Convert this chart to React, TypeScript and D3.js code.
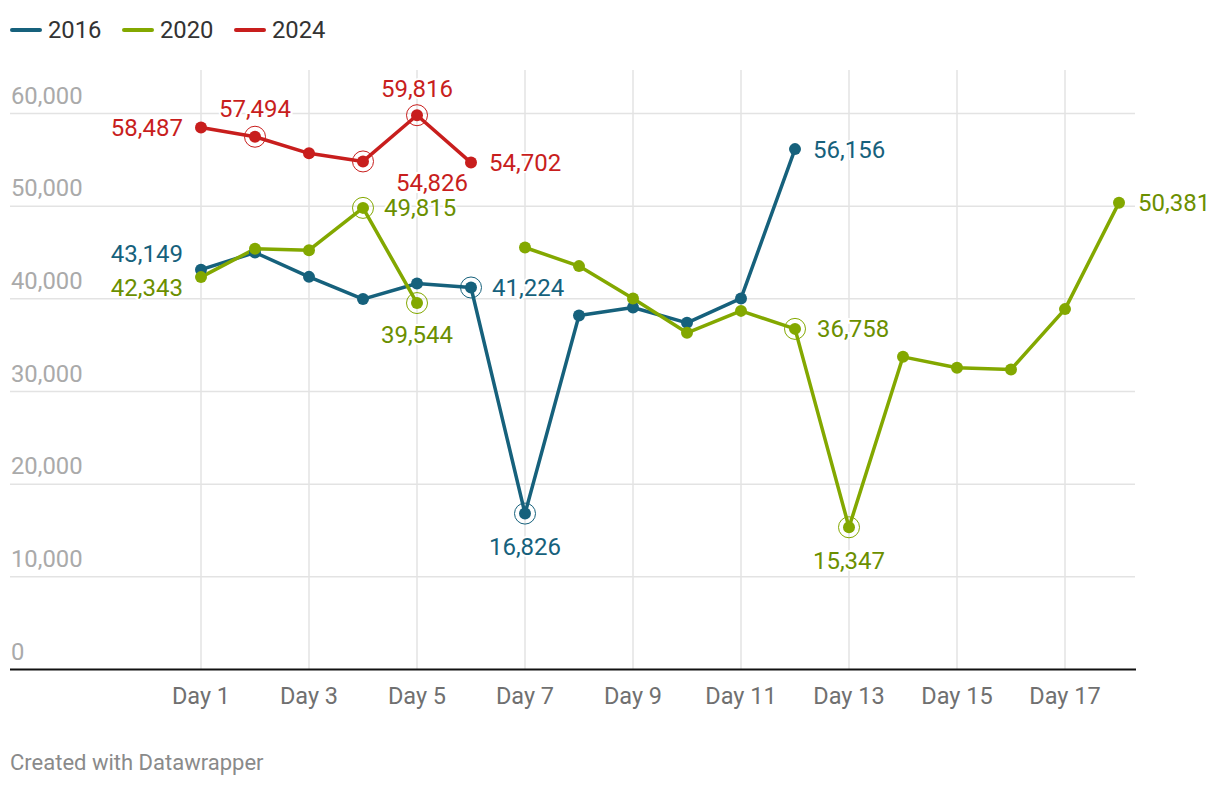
import React from "react";
import * as d3 from "d3";

const days: number[] = d3.range(1, 19);
const xTickDays: number[] = [1, 3, 5, 7, 9, 11, 13, 15, 17];
const yTicks: number[] = [0, 10000, 20000, 30000, 40000, 50000, 60000];

const values2016: (number | null)[] = [43149, 45000, 42370, 39970, 41660, 41224, 16826, 38210, 39070, 37410, 40040, 56156];
const values2020: (number | null)[] = [42343, 45400, 45250, 49815, 39544, null, 45540, 43530, 40040, 36330, 38700, 36758, 15347, 33740, 32560, 32380, 38890, 50381];
const values2024: (number | null)[] = [58487, 57494, 55700, 54826, 59816, 54702];

const seriesNames: string[] = ["2016", "2020", "2024"];
const seriesValues = [values2016, values2020, values2024];
const lineColors: string[] = ["#16617c", "#83a800", "#c81e1d"];
const textColors: string[] = ["#16617c", "#6b8f00", "#c81e1d"];

// highlighted (ringed) points: [seriesIndex, day]
const rings: [number, number][] = [
  [2, 2], [2, 4], [2, 5],
  [1, 4], [1, 5], [1, 12], [1, 13],
  [0, 6], [0, 7],
];

// labels: [seriesIndex, day, placement, dx, dy]
const labels: [number, number, string, number, number][] = [
  [2, 1, "left", -18, 0],
  [2, 2, "middle", 0, -28],
  [2, 5, "middle", 0, -27],
  [2, 4, "middle", 69, 21],
  [2, 6, "right", 18, 0],
  [0, 1, "left", -18, -16],
  [1, 1, "left", -18, 10],
  [1, 4, "right", 21, 0],
  [1, 5, "middle", 0, 32],
  [0, 6, "right", 21, 0],
  [0, 7, "middle", 0, 33],
  [0, 12, "right", 18, 0],
  [1, 12, "right", 22, 0],
  [1, 13, "middle", 0, 33],
  [1, 18, "right", 19, 0],
];

const FONT = "Roboto, 'Noto Sans', sans-serif";

export default function App() {
  const W = 1220;
  const H = 786;
  const x = d3.scaleLinear().domain([1, 18]).range([201, 1119]);
  const y = d3.scaleLinear().domain([0, 60000]).range([669.5, 113.5]);
  const fmt = d3.format(",");
  const gridLeft = 10;
  const gridRight = 1135;
  const plotTop = 70;

  const line = d3
    .line<number | null>()
    .defined((d) => d != null)
    .x((_, i) => x(days[i]))
    .y((d) => y(d as number));

  return (
    <div style={{ position: "absolute", left: 0, top: 0 }}>
      <svg width={W} height={H} style={{ display: "block", fontFamily: FONT }}>
        <rect width={W} height={H} fill="#fff" />
        {/* legend */}
        {seriesNames.map((name, i) => {
          const lx = [10, 122, 234][i];
          return (
            <g key={name}>
              <line x1={lx + 2} x2={lx + 30} y1={30} y2={30} stroke={lineColors[i]} strokeWidth={4} strokeLinecap="round" />
              <text x={lx + 38} y={30} dy="0.35em" fontSize={23.8} fill="#333">{name}</text>
            </g>
          );
        })}
        {/* horizontal grid */}
        {yTicks.map((t) => (
          <g key={t}>
            {t > 0 && (
              <line x1={gridLeft} x2={gridRight} y1={y(t)} y2={y(t)} stroke="#e3e3e3" strokeWidth={1.5} />
            )}
            <text x={gridLeft + 1} y={y(t) - 10} fontSize={23.8} fill="#aaaaaa">{fmt(t)}</text>
          </g>
        ))}
        {/* vertical grid */}
        {xTickDays.map((d) => (
          <g key={d}>
            <line x1={x(d)} x2={x(d)} y1={plotTop} y2={y(0)} stroke="#e3e3e3" strokeWidth={1.5} />
            <text x={x(d)} y={696} dy="0.35em" textAnchor="middle" fontSize={23.5} fill="#707070">{`Day ${d}`}</text>
          </g>
        ))}
        <line x1={gridLeft} x2={gridRight + 1} y1={y(0)} y2={y(0)} stroke="#111" strokeWidth={2} />
        {/* lines */}
        {seriesValues.map((vals, si) => (
          <path key={si} d={line(vals) || ""} fill="none" stroke={lineColors[si]} strokeWidth={3.5} strokeLinejoin="round" />
        ))}
        {/* rings */}
        {rings.map(([si, d], k) => {
          const v = seriesValues[si][d - 1] as number;
          return (
            <circle key={k} cx={x(d)} cy={y(v)} r={10.5} fill="none" stroke={lineColors[si]} strokeWidth={1} />
          );
        })}
        {/* dots */}
        {seriesValues.map((vals, si) =>
          vals.map((v, i) =>
            v == null ? null : (
              <circle key={`${si}-${i}`} cx={x(days[i])} cy={y(v)} r={6} fill={lineColors[si]} />
            )
          )
        )}
        {/* labels */}
        {labels.map(([si, d, place, dx, dy], k) => {
          const v = seriesValues[si][d - 1] as number;
          const anchor = place === "left" ? "end" : place === "right" ? "start" : "middle";
          return (
            <text
              key={k}
              x={x(d) + dx}
              y={y(v) + dy}
              dy="0.35em"
              textAnchor={anchor}
              fontSize={24}
              fill={textColors[si]}
              stroke="#fff"
              strokeWidth={4}
              paintOrder="stroke"
            >
              {fmt(v)}
            </text>
          );
        })}
        <text x={10} y={762} dy="0.35em" fontSize={22} fill="#8a8a8a">Created with Datawrapper</text>
      </svg>
    </div>
  );
}
